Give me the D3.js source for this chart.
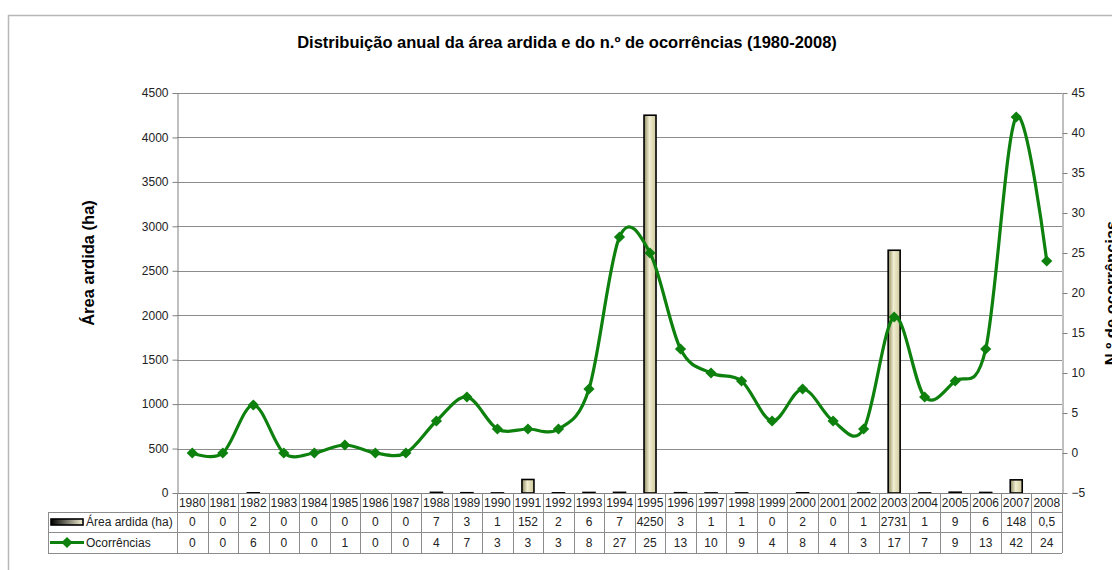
<!DOCTYPE html>
<html>
<head>
<meta charset="utf-8">
<script src="https://cdn.jsdelivr.net/npm/d3@7"></script>
<style>
  body { margin: 0; background: #fff; }
  svg { font-family: "Liberation Sans", Arial, sans-serif; }
</style>
</head>
<body>
<script>
'use strict';

// chart data
const years = [1980, 1981, 1982, 1983, 1984, 1985, 1986, 1987, 1988, 1989, 1990, 1991, 1992, 1993, 1994,
  1995, 1996, 1997, 1998, 1999, 2000, 2001, 2002, 2003, 2004, 2005, 2006, 2007, 2008];
const areaArdida = [0, 0, 2, 0, 0, 0, 0, 0, 7, 3, 1, 152, 2, 6, 7, 4250, 3, 1, 1, 0, 2, 0, 1, 2731, 1, 9, 6, 148, 0.5];
const ocorrencias = [0, 0, 6, 0, 0, 1, 0, 0, 4, 7, 3, 3, 3, 8, 27, 25, 13, 10, 9, 4, 8, 4, 3, 17, 7, 9, 13, 42, 24];
const leftTicks = [0, 500, 1000, 1500, 2000, 2500, 3000, 3500, 4000, 4500];
const rightTicks = [-5, 0, 5, 10, 15, 20, 25, 30, 35, 40, 45];

const W = 1112, H = 570;
const plot = { left: 177, right: 1062, top: 93, bottom: 493 };
const rowH = [19, 20, 21];
const legendLeft = 48;
const green = '#0d800d';
const fs = '12px';

const svg = d3.select('body').append('svg')
  .attr('width', W)
  .attr('height', H);

const defs = svg.append('defs');
const grad = defs.append('linearGradient').attr('id', 'barGrad')
  .attr('x1', '0%').attr('x2', '100%').attr('y1', '0%').attr('y2', '0%');
grad.append('stop').attr('offset', '0%').attr('stop-color', '#8f8a63');
grad.append('stop').attr('offset', '45%').attr('stop-color', '#f1eed2');
grad.append('stop').attr('offset', '100%').attr('stop-color', '#cfc99c');

const legendGrad = defs.append('linearGradient').attr('id', 'legGrad')
  .attr('x1', '0%').attr('x2', '100%');
legendGrad.append('stop').attr('offset', '0%').attr('stop-color', '#000');
legendGrad.append('stop').attr('offset', '100%').attr('stop-color', '#f1eed2');

// outer chart frame
svg.append('rect')
  .attr('x', 8.5).attr('y', 15.5)
  .attr('width', W + 20).attr('height', H + 20)
  .attr('fill', 'none')
  .attr('stroke', '#b8b8b8')
  .attr('stroke-width', 1.5);

// title
svg.append('text')
  .attr('x', 567).attr('y', 48)
  .attr('text-anchor', 'middle')
  .style('font-size', '16.5px')
  .style('font-weight', 'bold')
  .text('Distribuição anual da área ardida e do n.º de ocorrências (1980-2008)');

const x = d3.scaleBand().domain(years).range([plot.left, plot.right]);
const yL = d3.scaleLinear().domain([0, 4500]).range([plot.bottom, plot.top]);
const yR = d3.scaleLinear().domain([-5, 45]).range([plot.bottom, plot.top]);

// gridlines
svg.append('g').selectAll('line')
  .data(leftTicks.filter(d => d > 0))
  .enter().append('line')
  .attr('x1', plot.left).attr('x2', plot.right)
  .attr('y1', d => Math.round(yL(d)) + 0.5)
  .attr('y2', d => Math.round(yL(d)) + 0.5)
  .attr('stroke', '#8c8c8c')
  .attr('stroke-width', 1);

// axes
const axisL = svg.append('g')
  .attr('transform', `translate(${plot.left + 0.5},0)`)
  .call(d3.axisLeft(yL).tickValues(leftTicks).tickFormat(d3.format('d'))
    .tickSize(5).tickSizeOuter(0).tickPadding(4));
const axisR = svg.append('g')
  .attr('transform', `translate(${plot.right + 0.5},0)`)
  .call(d3.axisRight(yR).tickValues(rightTicks).tickFormat(d3.format('d'))
    .tickSize(5).tickSizeOuter(0).tickPadding(4));
[axisL, axisR].forEach(a => {
  a.select('.domain').attr('stroke', '#808080');
  a.selectAll('.tick line').attr('stroke', '#808080');
  a.selectAll('.tick text')
    .style('font-family', '"Liberation Sans", Arial, sans-serif')
    .style('font-size', fs)
    .attr('fill', '#222');
});

// axis titles
svg.append('text')
  .attr('transform', `translate(94,${(plot.top + plot.bottom) / 2 - 30}) rotate(-90)`)
  .attr('text-anchor', 'middle')
  .style('font-size', '16.5px')
  .style('font-weight', 'bold')
  .text('Área ardida (ha)');
svg.append('text')
  .attr('transform', `translate(1117,${(plot.top + plot.bottom) / 2}) rotate(-90)`)
  .attr('text-anchor', 'middle')
  .style('font-size', '16.5px')
  .style('font-weight', 'bold')
  .text('N.º de ocorrências');

// bars
const barW = 12;
svg.append('g').selectAll('rect')
  .data(areaArdida.map((v, i) => ({ year: years[i], v })).filter(d => d.v >= 1))
  .enter().append('rect')
  .attr('x', d => x(d.year) + x.bandwidth() / 2 - barW / 2)
  .attr('width', barW)
  .attr('y', d => yL(d.v))
  .attr('height', d => plot.bottom - yL(d.v))
  .attr('fill', 'url(#barGrad)')
  .attr('stroke', '#000')
  .attr('stroke-width', 1.6);

// smoothed line
const pts = ocorrencias.map((v, i) => [x(years[i]) + x.bandwidth() / 2, yR(v)]);
svg.append('path')
  .datum(pts)
  .attr('d', d3.line().curve(d3.curveCardinal.tension(0)))
  .attr('fill', 'none')
  .attr('stroke', green)
  .attr('stroke-width', 3.2);

const diamond = d3.symbol().type(d3.symbolDiamond2).size(80);
svg.append('g').selectAll('path')
  .data(pts)
  .enter().append('path')
  .attr('transform', d => `translate(${d[0]},${d[1]})`)
  .attr('d', diamond)
  .attr('fill', green);

// data table
const tTop = plot.bottom;
const r1 = tTop + rowH[0], r2 = r1 + rowH[1], r3 = r2 + rowH[2];
const tbl = svg.append('g');
const lineCol = '#8c8c8c';

// horizontal lines
[[plot.left, tTop], [legendLeft, r1], [legendLeft, r2], [legendLeft, r3]].forEach(([x0, y]) => {
  tbl.append('line')
    .attr('x1', x0).attr('x2', plot.right)
    .attr('y1', y + 0.5).attr('y2', y + 0.5)
    .attr('stroke', y === tTop ? '#808080' : lineCol);
});
// vertical lines
tbl.selectAll('line.v')
  .data(years.concat(['end']))
  .enter().append('line')
  .attr('class', 'v')
  .attr('x1', (d, i) => Math.round(plot.left + i * x.bandwidth()) + 0.5)
  .attr('x2', (d, i) => Math.round(plot.left + i * x.bandwidth()) + 0.5)
  .attr('y1', tTop).attr('y2', r3)
  .attr('stroke', lineCol);
tbl.append('line')
  .attr('x1', legendLeft + 0.5).attr('x2', legendLeft + 0.5)
  .attr('y1', r1).attr('y2', r3)
  .attr('stroke', lineCol);

const cellText = (vals, yMid) => tbl.append('g').selectAll('text')
  .data(vals)
  .enter().append('text')
  .attr('x', (d, i) => x(years[i]) + x.bandwidth() / 2)
  .attr('y', yMid + 4)
  .attr('text-anchor', 'middle')
  .style('font-size', fs)
  .attr('fill', '#222')
  .text(d => d);

cellText(years, (tTop + r1) / 2);
cellText(areaArdida.map(v => String(v).replace('.', ',')), (r1 + r2) / 2);
cellText(ocorrencias, (r2 + r3) / 2);

// legend keys
tbl.append('rect')
  .attr('x', 51).attr('y', (r1 + r2) / 2 - 3)
  .attr('width', 32).attr('height', 6)
  .attr('fill', 'url(#legGrad)')
  .attr('stroke', '#000')
  .attr('stroke-width', 1.6);
tbl.append('text')
  .attr('x', 86).attr('y', (r1 + r2) / 2 + 4)
  .style('font-size', fs)
  .attr('fill', '#222')
  .text('Área ardida (ha)');

tbl.append('line')
  .attr('x1', 50).attr('x2', 84)
  .attr('y1', (r2 + r3) / 2).attr('y2', (r2 + r3) / 2)
  .attr('stroke', green)
  .attr('stroke-width', 3);
tbl.append('path')
  .attr('transform', `translate(67,${(r2 + r3) / 2})`)
  .attr('d', diamond)
  .attr('fill', green);
tbl.append('text')
  .attr('x', 86).attr('y', (r2 + r3) / 2 + 4)
  .style('font-size', fs)
  .attr('fill', '#222')
  .text('Ocorrências');
</script>
</body>
</html>
